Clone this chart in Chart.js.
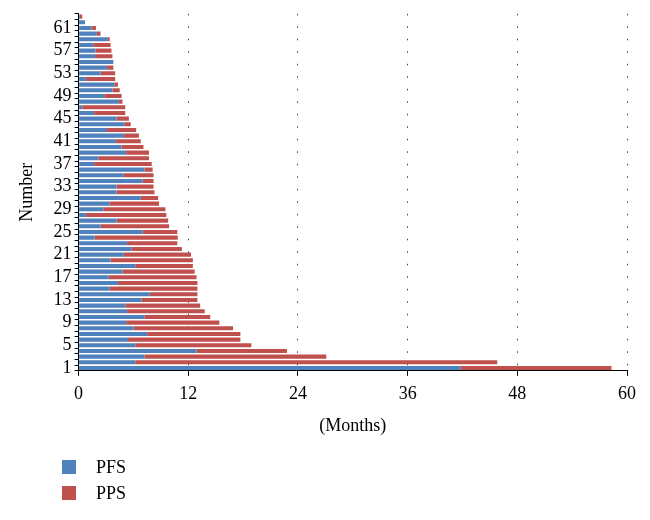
<!DOCTYPE html>
<html>
<head>
<meta charset="utf-8">
<script src="https://cdn.jsdelivr.net/npm/chart.js@4/dist/chart.umd.min.js"></script>
<style>
  html, body { margin: 0; padding: 0; background: #fff; }
  #wrap { position: relative; width: 650px; height: 520px; }
  #legend { position: absolute; left: 62px; top: 454px; font-family: "Liberation Serif", serif; font-size: 18px; color: #000; }
  .item { display: flex; align-items: center; height: 26px; }
  .box { width: 14px; height: 14px; margin-right: 20px; }
</style>
</head>
<body>
<div id="wrap">
  <canvas id="c" width="650" height="520"></canvas>
  <div id="legend"></div>
</div>
<script>
// Patient number (1 = bottom)
const categories = Array.from({length: 63}, (_, i) => String(i + 1));
const yTickLabels = ['1','5','9','13','17','21','25','29','33','37','41','45','49','53','57','61'];
const xTicks = [0, 12, 24, 36, 48, 60];

// Progression-free survival (months), patients 1..63
const pfs = [41.8, 6.2, 7.2, 12.9, 6.2, 5.4, 7.5, 6.0, 5.2, 7.2,
             5.3, 5.1, 6.9, 7.8, 3.4, 4.3, 3.3, 4.8, 6.2, 3.5,
             4.95, 5.8, 5.3, 1.75, 7.0, 2.4, 4.15, 0.8, 2.7, 3.4,
             6.8, 4.15, 4.15, 7.0, 4.95, 7.2, 1.7, 2.15, 5.2, 4.7,
             4.1, 4.95, 3.1, 5.0, 4.15, 1.7, 0.4, 4.4, 2.8, 3.7,
             3.9, 0.8, 2.4, 3.1, 3.8, 1.8, 1.85, 1.6, 3.2, 2.0,
             1.4, 0.7, 0.15];
// Post-progression survival (months), patients 1..63
const pps = [16.5, 39.6, 19.9, 9.9, 12.7, 12.3, 10.2, 10.9, 10.2, 7.2,
             8.5, 8.2, 6.1, 5.2, 9.6, 8.7, 9.6, 7.9, 6.3, 9.0,
             7.35, 5.5, 5.5, 9.1, 3.8, 7.5, 5.65, 8.8, 6.8, 5.4,
             1.9, 4.15, 4.05, 1.2, 3.25, 0.9, 6.3, 5.55, 2.5, 2.4,
             2.7, 1.65, 3.2, 0.7, 1.35, 3.4, 4.7, 0.4, 1.9, 0.8,
             0.4, 3.2, 1.6, 0.7, 0.0, 1.9, 1.75, 1.9, 0.2, 0.4,
             0.5, 0.0, 0.25];

const seriesNames = ['PFS', 'PPS'];
const colors = ['#4F81BD', '#C0504D'];
const FONT = '"Liberation Serif", "Times New Roman", serif';

const chart = new Chart(document.getElementById('c'), {
  type: 'bar',
  data: {
    labels: categories,
    datasets: [
      { label: seriesNames[0], data: pfs, backgroundColor: colors[0], barPercentage: 0.72, categoryPercentage: 1.0 },
      { label: seriesNames[1], data: pps, backgroundColor: colors[1], barPercentage: 0.72, categoryPercentage: 1.0 }
    ]
  },
  options: {
    indexAxis: 'y',
    responsive: false,
    animation: false,
    devicePixelRatio: 1,
    layout: { padding: { top: 6, right: 23, bottom: 79, left: 16 } },
    plugins: { legend: { display: false }, tooltip: { enabled: false } },
    scales: {
      x: {
        stacked: true,
        min: 0, max: 60,
        afterBuildTicks: (s) => { s.ticks = xTicks.map(v => ({ value: v })); },
        border: { display: true, color: '#000', width: 1, dash: [1.5, 11] },
        grid: {
          display: true,
          drawOnChartArea: true,
          drawTicks: true,
          tickLength: 5,
          tickColor: '#000',
          tickBorderDash: [],
          color: (ctx) => ctx.tick && ctx.tick.value === 0 ? 'rgba(0,0,0,0)' : '#444',
        },
        ticks: { color: '#000', font: { family: FONT, size: 18 }, padding: 8, maxRotation: 0 },
        title: { display: true, text: '(Months)', color: '#000', font: { family: FONT, size: 18 }, padding: { top: 2 } }
      },
      y: {
        stacked: true,
        reverse: true,
        border: { display: true, color: '#000', width: 1 },
        grid: { display: true, drawOnChartArea: false, drawTicks: true, tickLength: 4, tickColor: '#000', offset: true },
        ticks: {
          autoSkip: false,
          color: '#000',
          font: { family: FONT, size: 18 },
          padding: 3,
          callback: function(v, i) { const l = this.getLabelForValue(v); return yTickLabels.includes(l) ? l : ''; }
        },
        title: { display: true, text: 'Number', color: '#000', font: { family: FONT, size: 18 }, padding: { top: 0, bottom: 13 } }
      }
    }
  }
});

// HTML legend
const lg = document.getElementById('legend');
seriesNames.forEach((n, i) => {
  const d = document.createElement('div');
  d.className = 'item';
  d.innerHTML = '<span class="box" style="background:' + colors[i] + '"></span><span>' + n + '</span>';
  lg.appendChild(d);
});
</script>
</body>
</html>
